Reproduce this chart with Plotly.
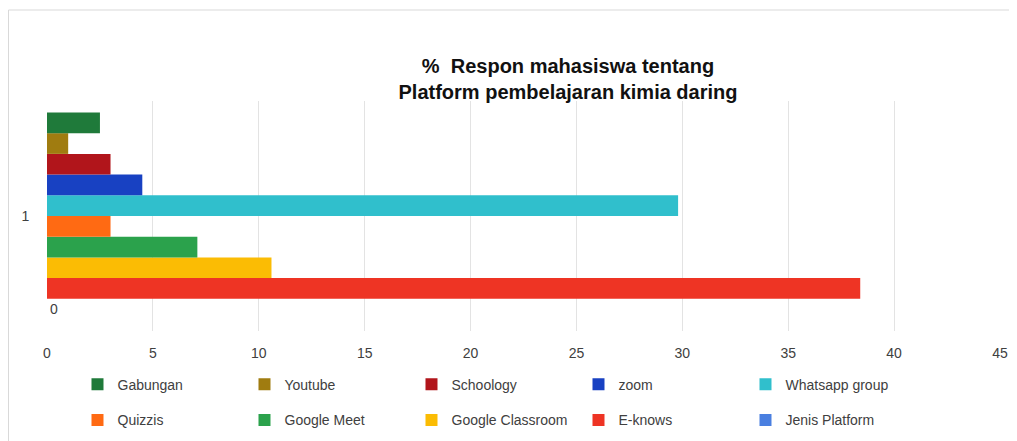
import plotly.graph_objects as go

category = ["1"]
# series listed bottom-to-top as drawn
series_names = ["Jenis Platform", "E-knows", "Google Classroom", "Google Meet", "Quizzis",
                "Whatsapp group", "zoom", "Schoology", "Youtube", "Gabungan"]
series_values = [0, 38.4, 10.6, 7.1, 3.0, 29.8, 4.5, 3.0, 1.0, 2.5]
series_colors = ["#4a7fe0", "#ee3424", "#fbbc04", "#2ba24c", "#ff6a13",
                 "#30bfcc", "#1841c2", "#b1151b", "#a07c10", "#1f7a3a"]
legend_row = ["legend2", "legend2", "legend2", "legend2", "legend2",
              "legend", "legend", "legend", "legend", "legend"]
x_ticks = [0, 5, 10, 15, 20, 25, 30, 35, 40, 45]

fig = go.Figure()
for name, val, col, lg in zip(series_names, series_values, series_colors, legend_row):
    fig.add_trace(go.Bar(
        y=category, x=[val], name=name, orientation="h",
        marker=dict(color=col, line=dict(width=0)),
        legend=lg,
        text=["0"] if name == "Jenis Platform" else None,
        textposition="outside" if name == "Jenis Platform" else None,
        textfont=dict(size=14, color="#404040", family="Liberation Sans, Arial"),
        cliponaxis=False,
    ))

font_fam = "Liberation Sans, Arial, sans-serif"
W, H = 1009, 433
T, B = 93, 110
PH = H - T - B
fig.update_layout(
    width=W, height=H,
    margin=dict(l=39, r=17, t=T, b=B, autoexpand=False),
    paper_bgcolor="white", plot_bgcolor="white",
    barmode="group", bargap=0.1, bargroupgap=0,
    font=dict(family=font_fam, color="#595959", size=14),
    title=dict(
        text="<b>%  Respon mahasiswa tentang<br>Platform pembelajaran kimia daring</b>",
        font=dict(size=20, color="#111111", family=font_fam),
        x=0.555, xref="container", xanchor="center",
        y=0.85, yref="container", yanchor="middle",
    ),
    xaxis=dict(
        range=[0, 45], tickvals=x_ticks, showgrid=True, gridcolor="#e3e3e3", gridwidth=1,
        zeroline=False, showline=False, ticks="outside", ticklen=9, tickcolor="rgba(0,0,0,0)",
        tickfont=dict(size=14, color="#404040"),
    ),
    yaxis=dict(
        showgrid=False, zeroline=False, showline=False, ticks="outside", ticklen=14,
        tickcolor="rgba(0,0,0,0)", tickfont=dict(size=14, color="#404040"),
    ),
    legend=dict(
        orientation="h", traceorder="reversed", x=0.032, xanchor="left",
        y=-0.164, yanchor="top", entrywidth=122, entrywidthmode="pixels",
        font=dict(size=14, color="#404040"), bgcolor="rgba(0,0,0,0)",
    ),
    legend2=dict(
        orientation="h", traceorder="reversed", x=0.032, xanchor="left",
        y=-0.319, yanchor="top", entrywidth=122, entrywidthmode="pixels",
        font=dict(size=14, color="#404040"), bgcolor="rgba(0,0,0,0)",
    ),
    shapes=[dict(type="rect", xref="paper", yref="paper",
                 x0=(-38.5) / 953, x1=1.2, y0=-1.0, y1=(T + PH - 2) / PH,
                 line=dict(color="#d9d9d9", width=1), fillcolor="rgba(0,0,0,0)", layer="below")],
)

fig.write_html("out.html")
